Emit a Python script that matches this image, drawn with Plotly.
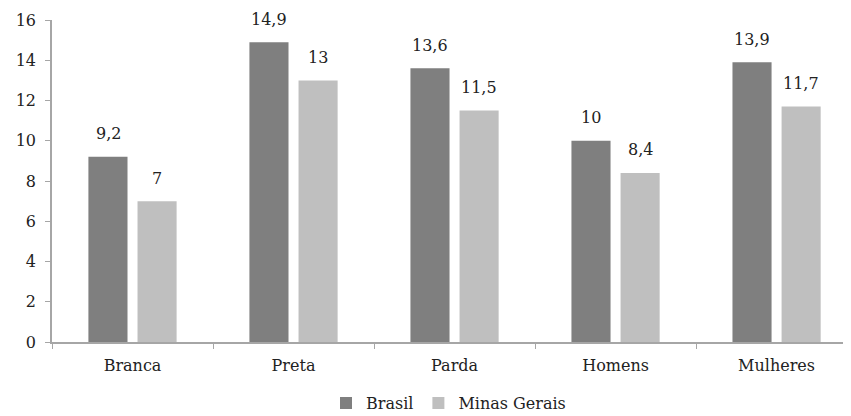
import plotly.graph_objects as go

categories = ["Branca", "Preta", "Parda", "Homens", "Mulheres"]
brasil = [9.2, 14.9, 13.6, 10, 13.9]
minas = [7, 13, 11.5, 8.4, 11.7]
y_ticks = [0, 2, 4, 6, 8, 10, 12, 14, 16]

def fmt(v):
    return ("%g" % v).replace(".", ",")

FONT = "DejaVu Serif, Liberation Serif, serif"
FS = 16
fig = go.Figure()
fig.add_bar(name="Brasil", x=categories, y=brasil, marker_color="#7f7f7f", marker_line_width=0)
fig.add_bar(name="Minas Gerais", x=categories, y=minas, marker_color="#bfbfbf", marker_line_width=0)

for i, c in enumerate(categories):
    for vals, shift in ((brasil, -24.5), (minas, 24.5)):
        fig.add_annotation(x=c, y=vals[i], text=fmt(vals[i]), showarrow=False,
                           xshift=shift, yshift=23, yanchor="middle",
                           font=dict(family=FONT, size=FS, color="#222"))

fig.update_layout(
    width=851, height=416,
    margin=dict(l=44, r=14, t=12, b=82, autoexpand=False),
    paper_bgcolor="white", plot_bgcolor="white",
    barmode="group", bargap=0.39, bargroupgap=0.204,
    font=dict(family=FONT, size=FS, color="#222"),
    showlegend=True,
    legend=dict(orientation="h", x=0.5, xanchor="center", y=-0.19, yanchor="middle",
                font=dict(family=FONT, size=FS), traceorder="normal",
                itemwidth=30, tracegroupgap=0),
    xaxis=dict(range=[-0.5, 4.425], showline=True, linecolor="#a6a6a6", linewidth=1.5,
               ticks="outside", tickson="boundaries", ticklen=5, tickcolor="#a6a6a6",
               showgrid=False, automargin=False, ticklabelstandoff=8,
               tickfont=dict(family=FONT, size=FS)),
    yaxis=dict(range=[0, 16], tickvals=y_ticks, showline=True, linecolor="#a6a6a6",
               linewidth=1.5, ticks="outside", ticklen=5, tickcolor="#a6a6a6",
               showgrid=False, zeroline=False, automargin=False, ticklabelstandoff=6,
               tickfont=dict(family=FONT, size=FS)),
)
fig.write_html("out.html")
